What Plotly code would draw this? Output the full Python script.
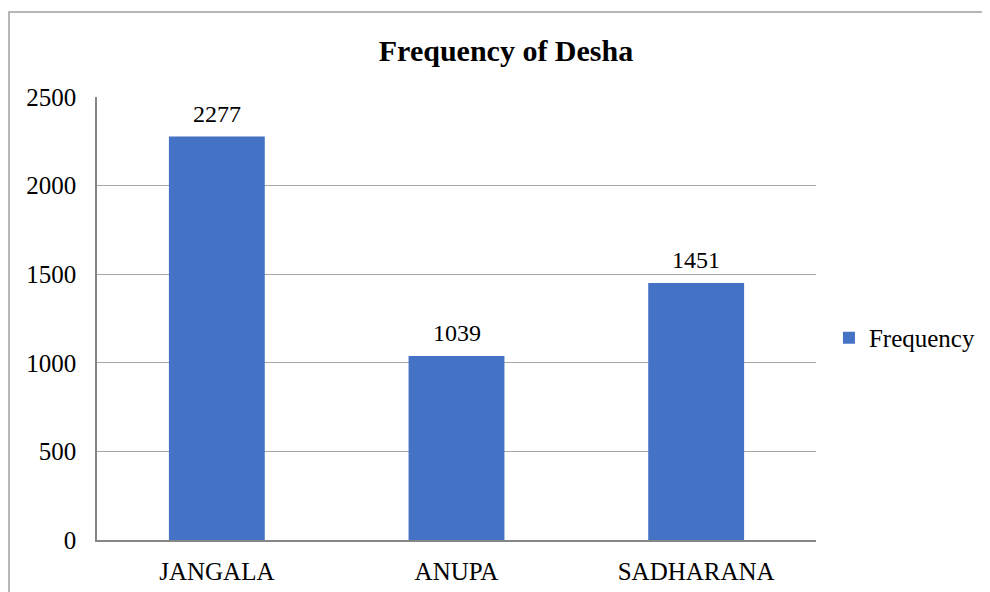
import plotly.graph_objects as go

# ================= DATA ===================
categories = ["JANGALA", "ANUPA", "SADHARANA"]
frequency = [2277, 1039, 1451]
series_name = "Frequency"
y_ticks = [0, 500, 1000, 1500, 2000, 2500]

BAR_COLOR = "#4472C4"
GRID_COLOR = "#A6A6A6"
FONT = "Liberation Serif, Times New Roman, serif"

# page body has an 8px margin, so the figure is sized/offset for that
W, H = 982, 584

# ===========================================
fig = go.Figure()
fig.add_trace(go.Bar(
    x=categories,
    y=frequency,
    name=series_name,
    marker=dict(color=BAR_COLOR, line=dict(width=0)),
    width=0.4,
    showlegend=True,
))

# data labels above the bars
for cat, val in zip(categories, frequency):
    fig.add_annotation(
        x=cat, y=val, text=str(val),
        showarrow=False, yanchor="bottom", yshift=8,
        font=dict(family=FONT, size=24, color="black"),
    )

fig.update_layout(
    width=W,
    height=H,
    margin=dict(l=89, r=174, t=89, b=52, autoexpand=False),
    paper_bgcolor="white",
    plot_bgcolor="white",
    font=dict(family=FONT, size=25, color="black"),
    title=dict(
        text="<b>Frequency of Desha</b>",
        font=dict(family=FONT, size=30, color="black"),
        x=498 / W, xref="container", xanchor="center",
        y=1 - 42 / H, yref="container", yanchor="middle",
    ),
    legend=dict(
        x=1.018, xanchor="left",
        y=0.456, yanchor="middle",
        font=dict(family=FONT, size=25, color="black"),
        itemwidth=30,
        bgcolor="rgba(0,0,0,0)",
    ),
    showlegend=True,
)

fig.update_yaxes(
    range=[0, 2500],
    tickvals=y_ticks,
    showgrid=True,
    gridcolor=GRID_COLOR,
    gridwidth=1,
    showline=True,
    linecolor="#868686",
    linewidth=1.5,
    zeroline=False,
    ticks="",
    automargin=False,
    ticklabelstandoff=14,
    tickfont=dict(family=FONT, size=25, color="black"),
)
fig.update_xaxes(
    showline=True,
    linecolor="#868686",
    linewidth=1.5,
    ticks="",
    automargin=False,
    ticklabelstandoff=8,
    tickfont=dict(family=FONT, size=25, color="black"),
)

# outer chart border (Excel chart area)
fig.add_shape(
    type="rect", xref="paper", yref="paper",
    x0=(9 - 97) / 719, x1=(1010 - 97) / 719,
    y0=(540 - 610) / 443, y1=(540 - 12) / 443,
    line=dict(color="#A0A0A0", width=1.5),
    fillcolor="rgba(0,0,0,0)",
    layer="below",
)

fig.write_html("out.html")
